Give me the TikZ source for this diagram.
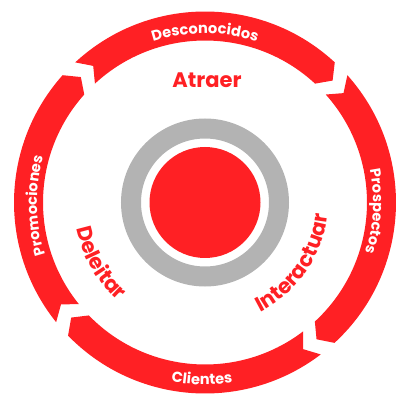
\documentclass[tikz,border=0pt]{standalone}
\usepackage{fontspec}
\setmainfont{Poppins}
\usetikzlibrary{decorations.text}
\definecolor{ringred}{RGB}{255,32,36}
\definecolor{ringgray}{RGB}{179,179,179}
\newcommand{\bandfont}{\bfseries\fontsize{14.6}{14.6}\selectfont}
\newcommand{\stagefont}{\bfseries\fontsize{21}{21}\selectfont}

\begin{document}
\begin{tikzpicture}[x=1pt,y=1pt,
  bandtext/.style={decorate,decoration={text along path,text align=center,text color=white,text={|\bandfont|#1}}},
  stagetext/.style={decorate,decoration={text along path,text align=center,text color=ringred,text={|\stagefont|#1}}}]
\useasboundingbox (0,0) rectangle (408,408);
\begin{scope}[shift={(205,205.5)}]
% four arrow bands, clockwise
\fill[ringred] (132.8:191) arc[start angle=132.8,end angle=47.2,radius=191] -- (43.7:176.5) -- (47.2:162) arc[start angle=47.2,end angle=132.8,radius=162] -- (129.3:176.5) -- cycle;
\fill[ringred] (41.8:191) arc[start angle=41.8,end angle=-47.3,radius=191] -- (-50.8:176.5) -- (-47.3:162) arc[start angle=-47.3,end angle=41.8,radius=162] -- (38.3:176.5) -- cycle;
\fill[ringred] (-52.7:191) arc[start angle=-52.7,end angle=-135.8,radius=191] -- (-139.3:176.5) -- (-135.8:162) arc[start angle=-135.8,end angle=-52.7,radius=162] -- (-56.2:176.5) -- cycle;
\fill[ringred] (-141.2:191) arc[start angle=-141.2,end angle=-221.8,radius=191] -- (-225.3:176.5) -- (-221.8:162) arc[start angle=-221.8,end angle=-141.2,radius=162] -- (-144.7:176.5) -- cycle;

% labels on the bands
\path[bandtext=Desconocidos] (150:169) arc[start angle=150,end angle=30,radius=169];
\path[bandtext=Prospectos] (57:168) arc[start angle=57,end angle=-63,radius=168];
\path[bandtext=Clientes] (-151:182) arc[start angle=-151,end angle=-31,radius=182];
\path[bandtext=Promociones] (241:168) arc[start angle=241,end angle=121,radius=168];

% stages
\node[anchor=base,text=ringred,font=\stagefont,inner sep=0] (atraer) at (2,114.5) {Atraer};
\path[stagetext=Interactuar] (-94.5:123) arc[start angle=-94.5,end angle=25.5,radius=123];
\path[stagetext=Deleitar] (150:131) arc[start angle=150,end angle=270,radius=131];

% centre
\draw[ringgray,line width=20pt] (0,0) circle[radius=74];
\node[circle,fill=ringred,minimum size=111pt,inner sep=0] (core) at (0,0) {};
\end{scope}
\end{tikzpicture}
\end{document}
